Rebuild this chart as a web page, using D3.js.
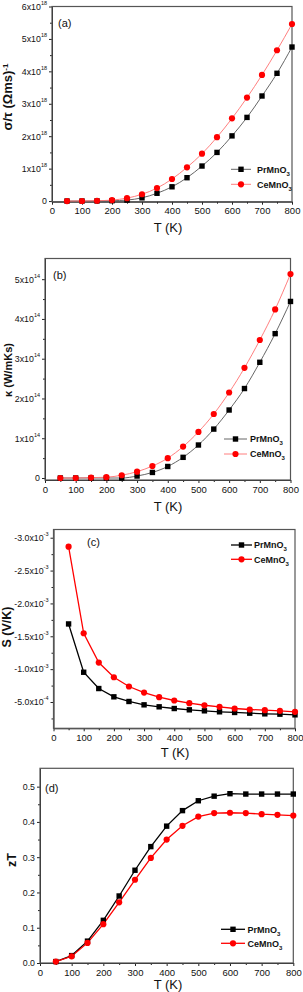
<!DOCTYPE html>
<html>
<head>
<meta charset="utf-8">
<script src="https://cdn.jsdelivr.net/npm/d3@7"></script>
<style>
  body { margin: 0; background: #fff; }
  svg { display: block; font-family: "Liberation Sans", Arial, sans-serif; }
</style>
</head>
<body>
<svg id="chart" width="303" height="992"></svg>
<script>
// temperatures (K)
const temps = [50, 100, 150, 200, 250, 300, 350, 400, 450, 500, 550, 600, 650, 700, 750, 800];

// (a) sigma/tau, units of 1e18
const sigmaPr = [0, 0.001, 0.003, 0.01, 0.03, 0.10, 0.24, 0.44, 0.72, 1.08, 1.50, 2.01, 2.58, 3.24, 3.94, 4.75];
const sigmaCe = [0, 0.002, 0.01, 0.03, 0.09, 0.21, 0.40, 0.68, 1.04, 1.46, 1.97, 2.55, 3.19, 3.89, 4.65, 5.46];
const sigmaTicks = [0, 1, 2, 3, 4, 5, 6];
const sigmaLabels = [["0", ""], ["1x10", "18"], ["2x10", "18"], ["3x10", "18"], ["4x10", "18"], ["5x10", "18"], ["6x10", "18"]];

// (b) kappa, units of 1e14
const kappaPr = [0, 0, 0, 0, 0, 0.05, 0.14, 0.29, 0.52, 0.83, 1.23, 1.71, 2.25, 2.91, 3.63, 4.44];
const kappaCe = [0, 0, 0.01, 0.02, 0.07, 0.16, 0.30, 0.50, 0.79, 1.16, 1.61, 2.15, 2.77, 3.47, 4.24, 5.13];
const kappaTicks = [0, 1, 2, 3, 4, 5];
const kappaLabels = [["0", ""], ["1x10", "14"], ["2x10", "14"], ["3x10", "14"], ["4x10", "14"], ["5x10", "14"]];

// (c) Seebeck, units of 1e-3 V/K
const seebeckPr = [-1.688, -0.953, -0.705, -0.579, -0.508, -0.457, -0.427, -0.401, -0.381, -0.366, -0.351, -0.341, -0.330, -0.320, -0.315, -0.305];
const seebeckCe = [-2.863, -1.546, -1.100, -0.877, -0.736, -0.644, -0.573, -0.523, -0.482, -0.451, -0.427, -0.401, -0.386, -0.376, -0.366, -0.351];
const seebeckTicks = [-0.5, -1.0, -1.5, -2.0, -2.5, -3.0];
const seebeckLabels = [["-5.0x10", "-4"], ["-1.0x10", "-3"], ["-1.5x10", "-3"], ["-2.0x10", "-3"], ["-2.5x10", "-3"], ["-3.0x10", "-3"]];

// (d) zT
const ztPr = [0.004, 0.021, 0.062, 0.121, 0.190, 0.263, 0.330, 0.388, 0.432, 0.460, 0.473, 0.480, 0.479, 0.479, 0.479, 0.479];
const ztCe = [0.004, 0.019, 0.057, 0.110, 0.172, 0.236, 0.298, 0.350, 0.389, 0.415, 0.425, 0.426, 0.425, 0.422, 0.420, 0.418];
const ztTicks = [0, 0.1, 0.2, 0.3, 0.4, 0.5];
const ztLabels = [["0.0", ""], ["0.1", ""], ["0.2", ""], ["0.3", ""], ["0.4", ""], ["0.5", ""]];

const xTicks = [0, 100, 200, 300, 400, 500, 600, 700, 800];
const xMinor = [50, 150, 250, 350, 450, 550, 650, 750];
const seriesNames = ["PrMnO", "CeMnO"];

const svg = d3.select("#chart");

function drawPanel(p) {
  const x = d3.scaleLinear().domain([0, 800]).range([p.left, p.right]);
  const y = d3.scaleLinear().domain(p.yDomain).range([p.bottom, p.top]);
  const g = svg.append("g");

  // minor ticks
  g.append("g").attr("transform", `translate(0,${p.bottom})`)
    .call(d3.axisBottom(x).tickValues(xMinor).tickSize(2).tickFormat(""))
    .call(a => a.select(".domain").remove());
  g.append("g").attr("transform", `translate(${p.left},0)`)
    .call(d3.axisLeft(y).tickValues(p.yMinor).tickSize(2).tickFormat(""))
    .call(a => a.select(".domain").remove());

  // major axes
  const xa = g.append("g").attr("transform", `translate(0,${p.bottom})`)
    .call(d3.axisBottom(x).tickValues(xTicks).tickSize(3).tickPadding(3).tickSizeOuter(0));
  xa.selectAll("text").attr("font-size", 9.5).attr("fill", "#111").style("font-family", "inherit");

  const ya = g.append("g").attr("transform", `translate(${p.left},0)`)
    .call(d3.axisLeft(y).tickValues(p.yTicks).tickSize(3).tickPadding(2).tickSizeOuter(0).tickFormat(""));
  ya.selectAll(".tick text").each(function(d, i) {
    const t = d3.select(this).attr("font-size", 8.8).attr("fill", "#111").style("font-family", "inherit");
    const lab = p.yLabels[i];
    t.append("tspan").text(lab[0]);
    if (lab[1]) {
      t.append("tspan").attr("font-size", 5.5).attr("dy", "-0.9em").text(lab[1]);
    }
  });
  g.selectAll(".domain").attr("stroke", "#222");
  g.selectAll(".tick line").attr("stroke", "#222");

  // frame
  g.append("rect")
    .attr("x", p.left).attr("y", p.top)
    .attr("width", p.right - p.left).attr("height", p.bottom - p.top)
    .attr("fill", "none").attr("stroke", "#555").attr("stroke-width", 1.2);

  // series
  const line = d3.line().x((d, i) => x(temps[i])).y(d => y(d))
    .curve(p.smooth ? d3.curveMonotoneX : d3.curveLinear);
  const lineCols = p.smooth ? ["#555", "#ff7070"] : ["#000", "#ff0000"];
  const lw = p.smooth ? 0.9 : 1.3;
  p.series.forEach((s, k) => {
    g.append("path").datum(s).attr("d", line)
      .attr("fill", "none").attr("stroke", lineCols[k]).attr("stroke-width", lw);
  });
  // markers
  g.selectAll(".sq").data(p.series[0]).enter().append("rect")
    .attr("x", (d, i) => x(temps[i]) - 2.7).attr("y", d => y(d) - 2.7)
    .attr("width", 5.4).attr("height", 5.4).attr("fill", "#000");
  g.selectAll(".ci").data(p.series[1]).enter().append("circle")
    .attr("cx", (d, i) => x(temps[i])).attr("cy", d => y(d))
    .attr("r", 3.1).attr("fill", "#ff0000");

  // legend
  const L = p.legend;
  seriesNames.forEach((name, k) => {
    const ly = L.y[k];
    g.append("line").attr("x1", L.x1).attr("x2", L.x2).attr("y1", ly).attr("y2", ly)
      .attr("stroke", lineCols[k]).attr("stroke-width", lw);
    const mx = (L.x1 + L.x2) / 2;
    if (k === 0) {
      g.append("rect").attr("x", mx - 2.7).attr("y", ly - 2.7).attr("width", 5.4).attr("height", 5.4).attr("fill", "#000");
    } else {
      g.append("circle").attr("cx", mx).attr("cy", ly).attr("r", 3.1).attr("fill", "#ff0000");
    }
    const t = g.append("text").attr("x", L.tx).attr("y", ly + 3.2)
      .attr("font-size", 9).attr("font-weight", "bold").attr("fill", "#111");
    t.append("tspan").text(name);
    t.append("tspan").attr("font-size", 6).attr("dy", 3).text("3");
  });

  // panel label
  g.append("text").attr("x", p.label.x).attr("y", p.label.y)
    .attr("font-size", 11).attr("fill", "#111").text(p.label.text);

  // x title
  g.append("text").attr("x", p.xTitle.x).attr("y", p.xTitle.y)
    .attr("text-anchor", "middle").attr("font-size", 13).attr("fill", "#111").text("T (K)");

  // y title
  const yt = g.append("text")
    .attr("transform", `translate(${p.yTitle.x},${p.yTitle.y}) rotate(-90)`)
    .attr("text-anchor", "middle").attr("dy", "0.35em")
    .attr("font-size", p.yTitle.size).attr("font-weight", "bold").attr("fill", "#111");
  yt.append("tspan").text(p.yTitle.text);
  if (p.yTitle.sup) {
    yt.append("tspan").attr("font-size", 8).attr("dy", "-0.5em").text(p.yTitle.sup);
  }
}

drawPanel({
  left: 52, right: 292, top: 6.5, bottom: 201.7,
  yDomain: [-0.02, 6], yTicks: sigmaTicks, yLabels: sigmaLabels,
  yMinor: [0.5, 1.5, 2.5, 3.5, 4.5, 5.5],
  series: [sigmaPr, sigmaCe], smooth: true,
  legend: { x1: 231, x2: 251, y: [169.3, 184.3], tx: 257 },
  label: { x: 58, y: 26.5, text: "(a)" },
  xTitle: { x: 168, y: 232 },
  yTitle: { x: 7.5, y: 97, size: 13, text: "σ/τ (Ωms)", sup: "-1" }
});

drawPanel({
  left: 45, right: 290.5, top: 258.5, bottom: 480,
  yDomain: [-0.05, 5.52], yTicks: kappaTicks, yLabels: kappaLabels,
  yMinor: [0.5, 1.5, 2.5, 3.5, 4.5],
  series: [kappaPr, kappaCe], smooth: true,
  legend: { x1: 224, x2: 247, y: [439, 454], tx: 250 },
  label: { x: 53, y: 279, text: "(b)" },
  xTitle: { x: 168, y: 511 },
  yTitle: { x: 8.5, y: 370, size: 11, text: "κ (W/mKs)" }
});

drawPanel({
  left: 53.5, right: 295, top: 529.5, bottom: 728.3,
  yDomain: [-0.1, -3.125], yTicks: seebeckTicks, yLabels: seebeckLabels,
  yMinor: [-0.25, -0.75, -1.25, -1.75, -2.25, -2.75],
  series: [seebeckPr, seebeckCe], smooth: false,
  legend: { x1: 231, x2: 252, y: [545, 559.3], tx: 254 },
  label: { x: 87, y: 545.5, text: "(c)" },
  xTitle: { x: 175, y: 756.5 },
  yTitle: { x: 7, y: 627, size: 12.5, text: "S (V/K)" }
});

drawPanel({
  left: 40, right: 293.3, top: 768.3, bottom: 963,
  yDomain: [0, 0.552], yTicks: ztTicks, yLabels: ztLabels,
  yMinor: [0.05, 0.15, 0.25, 0.35, 0.45],
  series: [ztPr, ztCe], smooth: false,
  legend: { x1: 221, x2: 245, y: [929.3, 943.3], tx: 247.5 },
  label: { x: 45, y: 792, text: "(d)" },
  xTitle: { x: 168, y: 988.5 },
  yTitle: { x: 12, y: 860, size: 12.5, text: "zT" }
});
</script>
</body>
</html>
